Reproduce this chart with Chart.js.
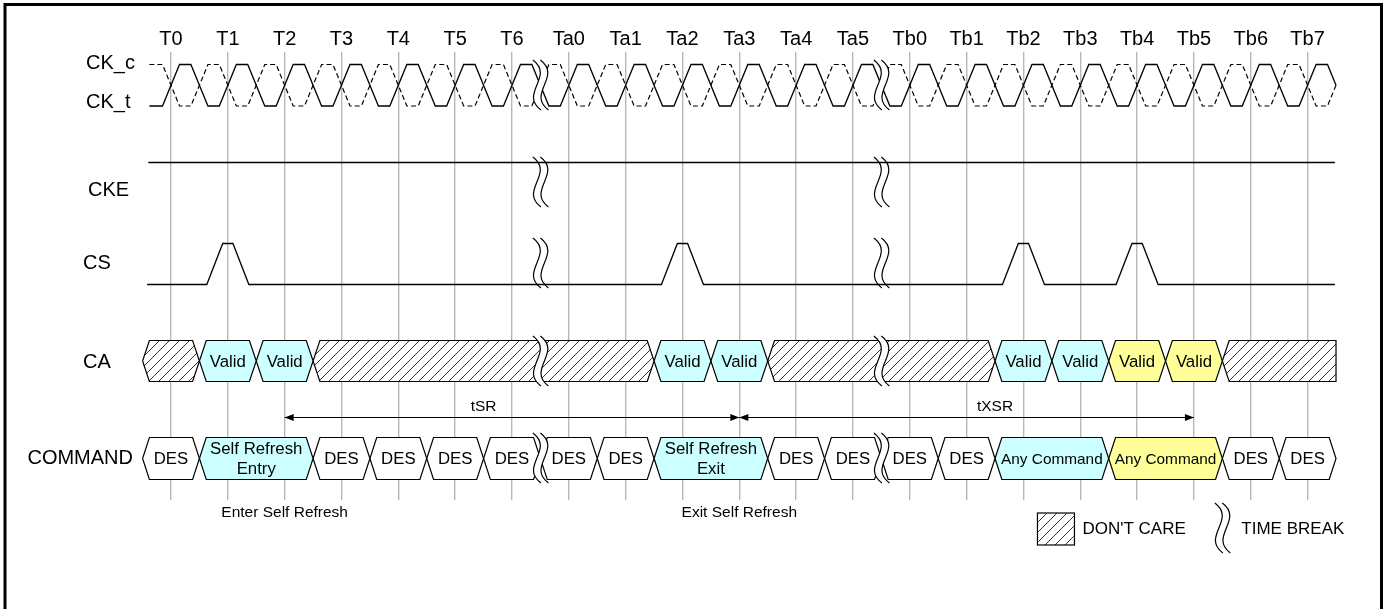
<!DOCTYPE html>
<html lang="en">
<head>
<meta charset="UTF-8" />
<title>Self Refresh Entry / Exit</title>
<style>
  body { margin: 0; background: #fff; }
  .mainBox { width: 1391px; height: 609px; position: relative; }
</style>
</head>
<body>
<div class="mainBox"><canvas id="myChart_timing"></canvas></div>
<script src="https://cdn.jsdelivr.net/npm/chart.js@4.4.1/dist/chart.umd.min.js"></script>
<script>
// clock edges (x value = clock index)
var tickLabels = ['T0','T1','T2','T3','T4','T5','T6','Ta0','Ta1','Ta2','Ta3','Ta4','Ta5','Tb0','Tb1','Tb2','Tb3','Tb4','Tb5','Tb6','Tb7'];
var rowLabels = ['CK_c','CK_t','CKE','CS','CA','COMMAND'];
var timeBreaks = [6.5, 12.5];
var csPulses = [1, 9, 15, 17];

// CA bus: x = don't care, c = cyan, y = yellow
var caEdges = [-0.5, 0.5, 1.5, 2.5, 8.5, 9.5, 10.5, 14.5, 15.5, 16.5, 17.5, 18.5, 20.5];
var caKinds = ['x','c','c','x','c','c','x','c','c','y','y','x'];
var caTexts = ['','Valid','Valid','','Valid','Valid','','Valid','Valid','Valid','Valid',''];

// COMMAND bus: w = plain
var cmdEdges = [-0.5, 0.5, 2.5, 3.5, 4.5, 5.5, 6.5, 7.5, 8.5, 10.5, 11.5, 12.5, 13.5, 14.5, 16.5, 18.5, 19.5, 20.5];
var cmdKinds = ['w','c','w','w','w','w','w','w','c','w','w','w','w','c','y','w','w'];
var cmdTexts = ['DES','Self Refresh\nEntry','DES','DES','DES','DES','DES','DES','Self Refresh\nExit','DES','DES','DES','DES','Any Command','Any Command','DES','DES'];

// timing spans
var spanNames = ['tSR', 'tXSR'];
var spanFrom = [2, 10];
var spanTo = [10, 18];
var spanLabelAt = [5.5, 14.5];

var noteTexts = ['Enter Self Refresh', 'Exit Self Refresh'];
var noteAt = [2, 10];

// ---- layout (y values are in the y scale, which runs top->bottom)
var Y = { ckHi: 64.5, ckLo: 106, cke: 162.5, csHi: 243.5, csLo: 284.5,
          caTop: 340.5, caBot: 381.5, cmdTop: 437.5, cmdBot: 479.5, span: 417.5, note: 512.5 };
var rowPos = [[86, 63, 'left'], [86, 102, 'left'], [88, 190, 'left'], [83, 263, 'left'], [83, 362, 'left'], [133, 458, 'right']];
var breakRows = [[60, 110, true], [157, 207, false], [238, 288, false], [336, 386, true], [433, 483, true]];
var FONT = "'Liberation Sans', Arial, sans-serif";
var waveStart = -0.38, waveEnd = 20.5;

function makeHatch() {
  var c = document.createElement('canvas');
  c.width = 10; c.height = 10;
  var g = c.getContext('2d');
  g.fillStyle = '#fff';
  g.fillRect(0, 0, 10, 10);
  g.strokeStyle = '#333';
  g.lineWidth = 1;
  g.beginPath();
  g.moveTo(-1, 11); g.lineTo(11, -1);
  g.moveTo(-1, 1); g.lineTo(1, -1);
  g.moveTo(9, 11); g.lineTo(11, 9);
  g.stroke();
  return g.createPattern(c, 'repeat');
}
var hatch = makeHatch();
var fills = { x: hatch, c: '#CCFFFF', y: '#FFFF99', w: '#FFFFFF' };

function lineSet(pts, extra) {
  return Object.assign({ data: pts, borderColor: '#000', borderWidth: 1.3, pointRadius: 0,
    fill: false, tension: 0, borderJoinStyle: 'miter' }, extra || {});
}

function clockPoints(inv) {
  var hi = inv ? Y.ckLo : Y.ckHi, lo = inv ? Y.ckHi : Y.ckLo, mid = (Y.ckHi + Y.ckLo) / 2, h = 0.15;
  var pts = [{ x: waveStart, y: lo }];
  for (var i = 0; i < tickLabels.length; i++) {
    pts.push({ x: i - h, y: lo }, { x: i + h, y: hi }, { x: i + 0.5 - h, y: hi });
    if (i < tickLabels.length - 1) pts.push({ x: i + 0.5 + h, y: lo });
    else pts.push({ x: i + 0.5, y: mid });
  }
  return pts;
}

function csPoints() {
  var pts = [{ x: waveStart - 0.04, y: Y.csLo }];
  csPulses.forEach(function (p) {
    pts.push({ x: p - 0.37, y: Y.csLo }, { x: p - 0.09, y: Y.csHi }, { x: p + 0.09, y: Y.csHi }, { x: p + 0.37, y: Y.csLo });
  });
  pts.push({ x: waveEnd - 0.02, y: Y.csLo });
  return pts;
}

function busSets(edges, kinds, top, bot, squareEnd) {
  var mid = (top + bot) / 2, s = 0.12, sets = [];
  for (var k = 0; k < kinds.length; k++) {
    var a = edges[k], b = edges[k + 1];
    var pts = [{ x: a, y: mid }, { x: a + s, y: top }];
    if (squareEnd && k === kinds.length - 1) pts.push({ x: b, y: top }, { x: b, y: bot });
    else pts.push({ x: b - s, y: top }, { x: b, y: mid }, { x: b - s, y: bot });
    pts.push({ x: a + s, y: bot }, { x: a, y: mid });
    sets.push(lineSet(pts, { fill: 'shape', backgroundColor: fills[kinds[k]], borderWidth: 1.2 }));
  }
  return sets;
}

var datasets = [];
datasets.push(lineSet(clockPoints(false)));
datasets.push(lineSet(clockPoints(true), { borderDash: [5, 3], borderWidth: 1.2 }));
datasets.push(lineSet([{ x: waveStart - 0.02, y: Y.cke }, { x: waveEnd - 0.02, y: Y.cke }]));
datasets.push(lineSet(csPoints()));
datasets = datasets.concat(busSets(caEdges, caKinds, Y.caTop, Y.caBot, true));
datasets = datasets.concat(busSets(cmdEdges, cmdKinds, Y.cmdTop, Y.cmdBot, false));
for (var n = 0; n < spanNames.length; n++) {
  datasets.push(lineSet([{ x: spanFrom[n], y: Y.span }, { x: spanTo[n], y: Y.span }], { borderWidth: 1.1 }));
}

function breakCurve(ctx, x0, top, bot, reverse) {
  var h = bot - top;
  if (!reverse) {
    ctx.bezierCurveTo(x0 + 22, top + h * 0.33, x0 - 14, top + h * 0.67, x0 + 8, bot);
  } else {
    ctx.bezierCurveTo(x0 - 14, top + h * 0.67, x0 + 22, top + h * 0.33, x0, top);
  }
}

function drawBreak(ctx, cx, top, bot, blank) {
  var a = cx - 7.5, b = cx;
  if (blank) {
    ctx.beginPath();
    ctx.moveTo(a, top);
    breakCurve(ctx, a, top, bot, false);
    ctx.lineTo(b + 8, bot);
    breakCurve(ctx, b, top, bot, true);
    ctx.closePath();
    ctx.fillStyle = '#fff';
    ctx.fill();
  }
  ctx.strokeStyle = '#000';
  ctx.lineWidth = 1.2;
  [a, b].forEach(function (x0) {
    ctx.beginPath();
    ctx.moveTo(x0, top);
    breakCurve(ctx, x0, top, bot, false);
    ctx.stroke();
  });
}

function arrowHead(ctx, x, y, dir) {
  ctx.beginPath();
  ctx.moveTo(x, y);
  ctx.lineTo(x - dir * 9, y - 3.5);
  ctx.lineTo(x - dir * 9, y + 3.5);
  ctx.closePath();
  ctx.fill();
}

function busText(ctx, xs, ys, edges, texts, top, bot) {
  var mid = (top + bot) / 2;
  ctx.textAlign = 'center';
  ctx.textBaseline = 'middle';
  ctx.fillStyle = '#000';
  for (var k = 0; k < texts.length; k++) {
    if (!texts[k]) continue;
    var x0 = xs.getPixelForValue(edges[k]), x1 = xs.getPixelForValue(edges[k + 1]);
    var lines = texts[k].split('\n');
    var size = 16.8;
    ctx.font = size + 'px ' + FONT;
    var maxW = x1 - x0 - 12;
    var w = Math.max.apply(null, lines.map(function (l) { return ctx.measureText(l).width; }));
    if (w > maxW) { size = size * maxW / w; ctx.font = size + 'px ' + FONT; }
    var yc = ys.getPixelForValue(mid);
    lines.forEach(function (l, j) {
      ctx.fillText(l, (x0 + x1) / 2, yc + (j - (lines.length - 1) / 2) * 20 + 1);
    });
  }
}

var timingPlugin = {
  id: 'timing',
  afterDatasetsDraw: function (chart) {
    var ctx = chart.ctx, xs = chart.scales.x, ys = chart.scales.y;
    ctx.save();
    // time breaks
    timeBreaks.forEach(function (b) {
      breakRows.forEach(function (r) {
        drawBreak(ctx, xs.getPixelForValue(b), ys.getPixelForValue(r[0]), ys.getPixelForValue(r[1]), r[2]);
      });
    });
    // bus texts
    busText(ctx, xs, ys, caEdges, caTexts, Y.caTop, Y.caBot);
    busText(ctx, xs, ys, cmdEdges, cmdTexts, Y.cmdTop, Y.cmdBot);
    // spans
    ctx.fillStyle = '#000';
    var yS = ys.getPixelForValue(Y.span);
    for (var n = 0; n < spanNames.length; n++) {
      arrowHead(ctx, xs.getPixelForValue(spanFrom[n]), yS, -1);
      arrowHead(ctx, xs.getPixelForValue(spanTo[n]), yS, 1);
      ctx.font = '15.5px ' + FONT;
      ctx.textAlign = 'center';
      ctx.textBaseline = 'middle';
      ctx.fillText(spanNames[n], xs.getPixelForValue(spanLabelAt[n]), yS - 11);
    }
    // notes
    ctx.font = '15.5px ' + FONT;
    for (var m = 0; m < noteTexts.length; m++) {
      ctx.fillText(noteTexts[m], xs.getPixelForValue(noteAt[m]), ys.getPixelForValue(Y.note));
    }
    // row labels
    ctx.font = '20px ' + FONT;
    rowLabels.forEach(function (t, i) {
      ctx.textAlign = rowPos[i][2];
      ctx.fillText(t, rowPos[i][0], ys.getPixelForValue(rowPos[i][1]));
    });
    // legend
    var lx = xs.getPixelForValue(15) + 14, ly = ys.getPixelForValue(513);
    ctx.fillStyle = hatch;
    ctx.fillRect(lx, ly, 37, 32);
    ctx.strokeStyle = '#000';
    ctx.lineWidth = 1.2;
    ctx.strokeRect(lx, ly, 37, 32);
    ctx.fillStyle = '#000';
    ctx.font = '17px ' + FONT;
    ctx.textAlign = 'left';
    ctx.fillText("DON'T CARE", lx + 45, ly + 16);
    var bx = xs.getPixelForValue(18.5);
    drawBreak(ctx, bx, ly - 10, ly + 40, false);
    ctx.fillText('TIME BREAK', bx + 19, ly + 16);
    // frame
    ctx.lineWidth = 3;
    ctx.strokeRect(5, 4.5, 1376.5, 700);
    ctx.restore();
  }
};

var ctx_timing = document.getElementById('myChart_timing');
new Chart(ctx_timing, {
  type: 'line',
  data: { datasets: datasets },
  options: {
    responsive: true,
    maintainAspectRatio: false,
    animation: false,
    events: [],
    layout: { padding: { left: 0, right: 0, top: 0, bottom: 109 } },
    plugins: { legend: { display: false }, tooltip: { enabled: false } },
    scales: {
      x: {
        type: 'linear',
        position: 'top',
        min: -171 / 56.83,
        max: (1391 - 171) / 56.83,
        afterBuildTicks: function (scale) {
          scale.ticks = tickLabels.map(function (_, i) { return { value: i }; });
        },
        afterFit: function (scale) { scale.height = 52; },
        ticks: {
          autoSkip: false, maxRotation: 0, minRotation: 0, padding: 1,
          color: '#000', font: { family: FONT, size: 20 },
          callback: function (v) { return tickLabels[v]; }
        },
        grid: { color: '#b8b8b8', lineWidth: 1.4, drawTicks: false },
        border: { display: false }
      },
      y: { type: 'linear', display: false, min: 52, max: 500, reverse: true }
    }
  },
  plugins: [timingPlugin]
});
</script>
</body>
</html>
